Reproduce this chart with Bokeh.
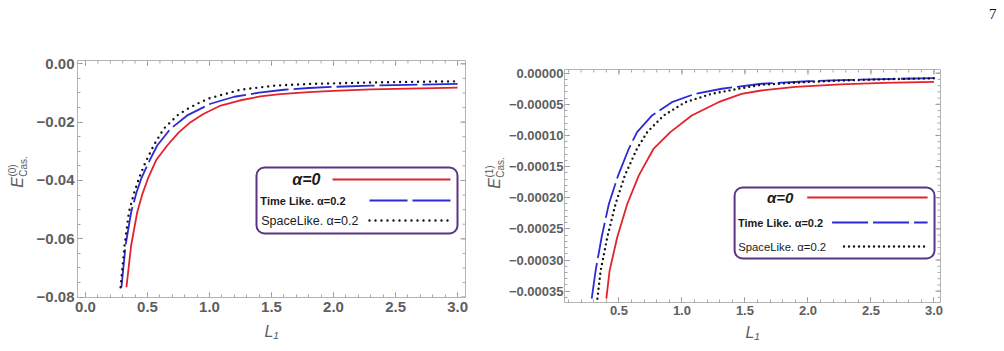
import numpy as np
from bokeh.plotting import figure
from bokeh.layouts import row, column
from bokeh.models import (Range1d, FixedTicker, LinearAxis, BoxAnnotation, Label,
                          CustomJSTickFormatter, Div)
from bokeh.core.properties import value
from bokeh.embed import file_html
from bokeh.resources import INLINE

# ---- zeroth-order Casimir energy E^(0)_Cas. versus L1 ----
l_a0_0 = [0.33, 0.368, 0.417, 0.46, 0.503, 0.57, 0.659, 0.75, 0.847, 0.95, 1.09, 1.25,
          1.41, 1.57, 1.8, 2.0, 2.3, 2.6, 3.0]
e_a0_0 = [-0.0766, -0.0623, -0.0509, -0.0445, -0.0394, -0.0330, -0.0280, -0.0236, -0.0200,
          -0.0172, -0.0143, -0.0125, -0.0112, -0.0104, -0.0097, -0.0093, -0.0088, -0.0085,
          -0.0082]
l_time_0 = [0.29, 0.323, 0.368, 0.41, 0.449, 0.51, 0.578, 0.685, 0.82, 1.008, 1.2, 1.4,
            1.6, 1.8, 2.0, 2.3, 2.6, 3.0]
e_time_0 = [-0.0766, -0.0623, -0.0509, -0.0443, -0.0394, -0.0337, -0.0280, -0.0223, -0.0177,
            -0.0137, -0.0113, -0.0099, -0.0089, -0.0083, -0.0079, -0.0075, -0.0072, -0.0069]
l_space_0 = [0.283, 0.315, 0.35, 0.39, 0.43, 0.484, 0.55, 0.63, 0.74, 0.82, 0.9, 1.0, 1.25,
             1.52, 1.8, 2.0, 2.3, 2.6, 3.0]
e_space_0 = [-0.0766, -0.0623, -0.0509, -0.0445, -0.0394, -0.0337, -0.0280, -0.0223, -0.0177,
             -0.0155, -0.0137, -0.0118, -0.0089, -0.0075, -0.0069, -0.0067, -0.0064, -0.0062,
             -0.0060]

# ---- first-order correction E^(1)_Cas. versus L1 ----
l_a0_1 = [0.40, 0.426, 0.487, 0.566, 0.658, 0.776, 0.908, 1.078, 1.29, 1.473, 1.63, 1.9,
          2.26, 2.6, 3.0]
e_a0_1 = [-36.2e-5, -31.7e-5, -26.3e-5, -21.0e-5, -16.4e-5, -12.1e-5, -9.47e-5, -6.79e-5,
          -4.66e-5, -3.31e-5, -2.78e-5, -2.20e-5, -1.81e-5, -1.55e-5, -1.40e-5]
l_time_1 = [0.284, 0.315, 0.363, 0.42, 0.494, 0.579, 0.644, 0.763, 0.92, 1.105, 1.316, 1.63,
            2.0, 2.26, 2.6, 3.0]
e_time_1 = [-36.2e-5, -31.7e-5, -26.3e-5, -21.0e-5, -16.4e-5, -12.1e-5, -9.47e-5, -6.79e-5,
            -4.66e-5, -3.31e-5, -2.50e-5, -1.70e-5, -1.30e-5, -1.12e-5, -0.95e-5, -0.80e-5]
l_space_1 = [0.329, 0.355, 0.408, 0.473, 0.547, 0.644, 0.724, 0.855, 1.026, 1.236, 1.447,
             1.63, 2.0, 2.26, 2.6, 3.0]
e_space_1 = [-36.2e-5, -31.7e-5, -26.3e-5, -21.0e-5, -16.4e-5, -12.1e-5, -9.47e-5, -6.79e-5,
             -4.66e-5, -3.31e-5, -2.50e-5, -1.86e-5, -1.40e-5, -1.18e-5, -0.98e-5, -0.82e-5]

# ---- ticks ----
x_ticks_0 = [0.0, 0.5, 1.0, 1.5, 2.0, 2.5, 3.0]
x_labels_0 = ["0.0", "0.5", "1.0", "1.5", "2.0", "2.5", "3.0"]
y_ticks_0 = [0.0, -0.02, -0.04, -0.06, -0.08]
y_labels_0 = ["0.00", "\u22120.02", "\u22120.04", "\u22120.06", "\u22120.08"]
x_ticks_1 = [0.5, 1.0, 1.5, 2.0, 2.5, 3.0]
x_labels_1 = ["0.5", "1.0", "1.5", "2.0", "2.5", "3.0"]
y_ticks_1 = [0.0, -5e-5, -10e-5, -15e-5, -20e-5, -25e-5, -30e-5, -35e-5]
y_labels_1 = ["0.00000", "\u22120.00005", "\u22120.00010", "\u22120.00015", "\u22120.00020",
              "\u22120.00025", "\u22120.00030", "\u22120.00035"]

legend_labels = ["\u03b1=0", "Time Like. \u03b1=0.2", "SpaceLike. \u03b1=0.2"]
x_title = "L\u2081"
page_number = "7"

RED = "#e3222b"
BLUE = "#2b2bd6"
DOT = "#141414"
FRAME = "#b4b4b4"
TICKTXT = "#5e5e5e"
PURPLE = "#5b3486"
SANS = "Liberation Sans"
H = 351


def tick_fmt(values, labels):
    return CustomJSTickFormatter(args=dict(tv=values, tl=labels), code="""
        let best = -1, d = Infinity;
        for (let i = 0; i < tv.length; i++) {
            const e = Math.abs(tv[i] - tick);
            if (e < d) { d = e; best = i; }
        }
        return (best >= 0 && d < 1e-9) ? tl[best] : "";
    """)


class Geom:
    """Page-pixel geometry of one panel and its data ranges."""
    def __init__(self, page_x, width, fl, ft, fw, fh, xr, yr):
        self.page_x, self.width = page_x, width
        self.fl, self.ft, self.fw, self.fh = fl, ft, fw, fh
        self.xr, self.yr = xr, yr

    def x(self, px):
        return self.xr[0] + (px - self.fl) / self.fw * (self.xr[1] - self.xr[0])

    def y(self, py):
        return self.yr[1] - (py - self.ft) / self.fh * (self.yr[1] - self.yr[0])

    def dx(self, n):
        return n / self.fw * (self.xr[1] - self.xr[0])

    def dy(self, n):
        return n / self.fh * (self.yr[1] - self.yr[0])


def title_strip(g, page_x0, width, sup, ex, ey):
    """Narrow figure left of a panel holding the rotated E title; shares the panel's
    vertical frame, addressed as page pixels (y measured up from the page bottom)."""
    s = figure(width=width, height=H, output_backend="svg", toolbar_location=None,
               x_range=Range1d(page_x0, page_x0 + width),
               y_range=Range1d(H - (g.ft + g.fh), H - g.ft),
               x_axis_location=None, y_axis_location=None)
    s.min_border_left = s.min_border_right = 0
    s.min_border_top = g.ft
    s.min_border_bottom = H - (g.ft + g.fh)
    s.xgrid.visible = False
    s.ygrid.visible = False
    s.outline_line_color = None
    s.border_fill_color = "white"
    common = dict(angle=np.pi / 2, text_align="center", text_baseline="middle",
                  text_font=value(SANS), text_color=TICKTXT)
    s.text(x=[ex], y=[H - ey], text=["E"], text_font_size="16px",
           text_font_style="italic", **common)
    s.text(x=[ex - 5], y=[H - (ey - 12)], text=[sup], text_font_size="10px", **common)
    s.text(x=[ex + 6], y=[H - (ey - 16)], text=["Cas."], text_font_size="10px", **common)
    return s


def make_panel(g, xt, xl, yt, yl, xminor, yminor, curves, dot_dash, blue_dash,
               legend, tick_size, x_standoff, y_standoff, title_standoff):
    p = figure(width=g.width, height=H, output_backend="svg", toolbar_location=None,
               x_range=Range1d(*g.xr), y_range=Range1d(*g.yr),
               x_axis_location=None, y_axis_location=None)
    p.min_border_left = g.fl - g.page_x
    p.min_border_right = g.page_x + g.width - (g.fl + g.fw)
    p.min_border_top = g.ft
    p.min_border_bottom = H - (g.ft + g.fh)
    p.xgrid.visible = False
    p.ygrid.visible = False
    p.outline_line_color = FRAME
    p.outline_line_width = 1
    p.background_fill_color = "white"
    p.border_fill_color = "white"

    xtick = FixedTicker(ticks=xt, minor_ticks=xminor)
    ytick = FixedTicker(ticks=yt, minor_ticks=yminor)
    for loc, tk, vals, labs in (("below", xtick, xt, xl), ("left", ytick, yt, yl)):
        ax = LinearAxis(ticker=tk, formatter=tick_fmt(vals, labs))
        ax.axis_line_color = FRAME
        ax.major_tick_in = 5
        ax.major_tick_out = 0
        ax.minor_tick_in = 3
        ax.minor_tick_out = 0
        ax.major_tick_line_color = "#8c8c8c"
        ax.minor_tick_line_color = "#a8a8a8"
        ax.major_label_text_color = TICKTXT
        ax.major_label_text_font = SANS
        ax.major_label_text_font_style = "bold"
        ax.major_label_text_font_size = tick_size
        if loc == "below":
            ax.major_label_standoff = x_standoff
            ax.axis_label = x_title
            ax.axis_label_text_font = SANS
            ax.axis_label_text_font_style = "italic"
            ax.axis_label_text_font_size = "16px"
            ax.axis_label_text_color = TICKTXT
            ax.axis_label_standoff = title_standoff
        else:
            ax.major_label_standoff = y_standoff
        p.add_layout(ax, loc)

    # mirrored ticks on the top and right edges of the frame
    top, right = g.yr[1], g.xr[1]
    for vals, n, col in ((xt, 5, "#8c8c8c"), (xminor, 3, "#a8a8a8")):
        p.segment(x0=vals, y0=[top] * len(vals), x1=vals,
                  y1=[top - g.dy(n)] * len(vals), line_color=col, line_width=1)
    for vals, n, col in ((yt, 5, "#8c8c8c"), (yminor, 3, "#a8a8a8")):
        p.segment(x0=[right] * len(vals), y0=vals, x1=[right - g.dx(n)] * len(vals),
                  y1=vals, line_color=col, line_width=1)

    (la, ea), (lt, et), (ls, es) = curves
    p.line(la, ea, line_color=RED, line_width=1.8)
    p.line(lt, et, line_color=BLUE, line_width=1.8, line_dash=blue_dash)
    p.line(ls, es, line_color=DOT, line_width=2.4, line_dash=dot_dash, line_cap="round")

    # legend: rounded frame, label then line sample on each row
    box, rows = legend
    bl, bt, br, bb = box
    p.add_layout(BoxAnnotation(left=g.x(bl), right=g.x(br), top=g.y(bt), bottom=g.y(bb),
                               fill_color="white", fill_alpha=1.0, line_color=PURPLE,
                               line_alpha=1.0, line_width=2, border_radius=8,
                               level="underlay"))
    styles = [dict(line_color=RED, line_width=1.8),
              dict(line_color=BLUE, line_width=1.8, line_dash=blue_dash),
              dict(line_color=DOT, line_width=2.4, line_dash=dot_dash, line_cap="round")]
    for text, (tx, ty, s0, s1, fsize, fstyle), st in zip(legend_labels, rows, styles):
        p.add_layout(Label(x=g.x(tx), y=g.y(ty), text=text, text_align="right",
                           text_baseline="middle", text_font=SANS, text_font_size=fsize,
                           text_font_style=fstyle, text_color="#1a1a1a"))
        p.segment(x0=[g.x(s0)], y0=[g.y(ty)], x1=[g.x(s1)], y1=[g.y(ty)], **st)
    return p


# left panel: title strip 0-30, plot 30-480
g0 = Geom(30, 450, 77, 60, 388, 237, (-0.0645, 3.064), (-0.08012, 0.00113))
s0 = title_strip(g0, 0, 30, "(0)", 17, 182)
p0 = make_panel(
    g0, x_ticks_0, x_labels_0, y_ticks_0, y_labels_0,
    [round(v, 2) for v in np.arange(0.0, 3.05, 0.1)],
    [round(v, 3) for v in np.arange(-0.08, 0.0001, 0.005)],
    ((l_a0_0, e_a0_0), (l_time_0, e_time_0), (l_space_0, e_space_0)),
    "0 6", "38 5",
    ((256, 167, 457, 233),
     [(320, 179, 332, 450, "16px", "bold italic"),
      (345, 200, 369, 450, "11px", "bold"),
      (358, 220, 369, 452, "12.5px", "normal")]),
    "15px", 4, 3, 8)

# right panel: title strip 480-505, plot 505-964
g1 = Geom(505, 459, 562, 69, 378, 233, (0.068, 3.052), (-0.0003682, 0.0000059))
s1 = title_strip(g1, 480, 25, "(1)", 494, 183)
p1 = make_panel(
    g1, x_ticks_1, x_labels_1, y_ticks_1, y_labels_1,
    [round(v, 2) for v in np.arange(0.1, 3.05, 0.1)],
    [round(v, 6) for v in np.arange(-0.00036, 0.000001, 0.00001)],
    ((l_a0_1, e_a0_1), (l_time_1, e_time_1), (l_space_1, e_space_1)),
    "0 5", "36 5",
    ((733, 187, 934, 258),
     [(792, 197, 806, 927, "15px", "bold italic"),
      (822, 222, 831, 927, "11px", "bold"),
      (825, 246, 843, 927, "11.3px", "normal")]),
    "13px", 3, 1, 6)

# page number in the top-right corner
num = Div(text=page_number, width=40, height=H,
          styles={"font-family": "Liberation Serif", "font-size": "15px",
                  "color": "#111111", "padding-left": "25px", "padding-top": "5px",
                  "line-height": "18px", "margin": "0"})

layout = row(column(row(s0, p0)), column(row(s1, p1)), num)
open("out.html", "w").write(file_html(layout, INLINE))
